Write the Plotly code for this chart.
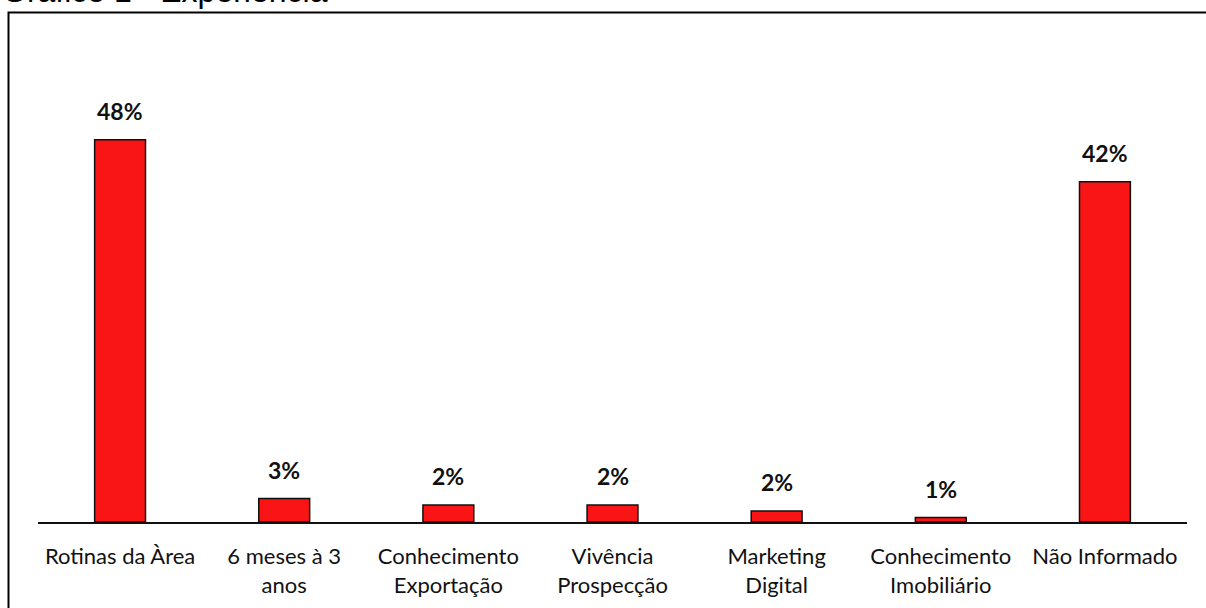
import plotly.graph_objects as go

categories = ["Rotinas da Àrea", "6 meses à 3<br>anos", "Conhecimento<br>Exportação",
              "Vivência<br>Prospecção", "Marketing<br>Digital", "Conhecimento<br>Imobiliário",
              "Não Informado"]
values = [48.0, 2.95, 2.13, 2.13, 1.38, 0.56, 42.7]
value_labels = ["48%", "3%", "2%", "2%", "2%", "1%", "42%"]
title_text = "Gráfico 1 - Experiência"

W, H = 1206, 608
ml, mr, mt, mb = 38, 19, 60, 85.5
pw = W - ml - mr
ph = H - mt - mb

fig = go.Figure()
fig.add_trace(go.Bar(
    x=categories, y=values,
    marker=dict(color="#F91515", line=dict(color="#111111", width=1.5)),
    hoverinfo="skip",
))

for c, v, t in zip(categories, values, value_labels):
    fig.add_annotation(x=c, y=v, text="<b>" + t + "</b>", showarrow=False,
                       xanchor="center", yanchor="bottom", yshift=13,
                       font=dict(family="Lato, Open Sans, sans-serif", size=23, color="#111111"))

def px_x(p):
    return (p - ml) / pw

def px_y(p):
    return (H - mb - p) / ph

fig.add_shape(type="rect", xref="paper", yref="paper",
              x0=px_x(8.5), x1=px_x(1240), y0=px_y(12.5), y1=px_y(640),
              line=dict(color="black", width=2), fillcolor="rgba(0,0,0,0)")

fig.add_annotation(xref="paper", yref="paper", x=px_x(0), y=px_y(-9),
                   text=title_text, showarrow=False, xanchor="left", yanchor="middle",
                   font=dict(family="Liberation Sans, Arial, sans-serif", size=32, color="black"))

fig.update_layout(
    width=W, height=H,
    margin=dict(l=ml, r=mr, t=mt, b=mb, pad=0, autoexpand=False),
    paper_bgcolor="white", plot_bgcolor="white",
    showlegend=False,
    bargap=0.69,
    xaxis=dict(showline=True, linecolor="#111111", linewidth=2, ticks="", automargin=False,
               showgrid=False, zeroline=False, ticklabelstandoff=14,
               tickfont=dict(family="Lato, Open Sans, sans-serif", size=22, color="#111111")),
    yaxis=dict(range=[0, 58], visible=False, showgrid=False, zeroline=False, automargin=False),
)

fig.write_html("out.html", config={"displayModeBar": False},
               post_script="document.body.style.margin='0';document.body.style.overflow='hidden';")
